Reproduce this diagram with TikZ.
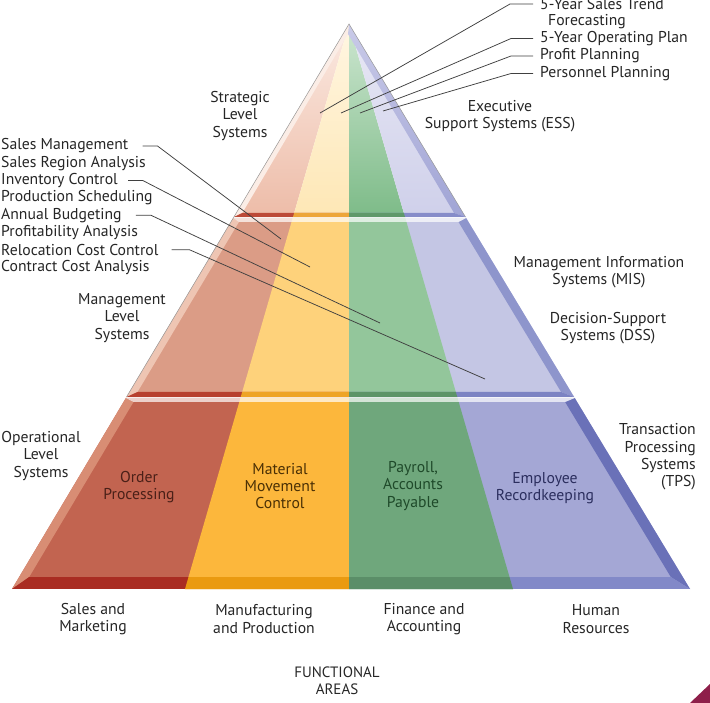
\documentclass[tikz,border=0pt]{standalone}
\usepackage{fontspec}
\setmainfont{PT Sans}
\usetikzlibrary{calc}
% operational tier
\definecolor{opR}{HTML}{C26450}\definecolor{opY}{HTML}{FCB73C}
\definecolor{opG}{HTML}{6FA77C}\definecolor{opP}{HTML}{A4A7D5}
\definecolor{opRd}{HTML}{A92C22}\definecolor{opYd}{HTML}{EA9A10}
\definecolor{opGd}{HTML}{5B8E68}\definecolor{opPd}{HTML}{8289C8}
\definecolor{opLB}{HTML}{D88D74}\definecolor{opRB}{HTML}{6A71B8}
% management tier
\definecolor{mgR}{HTML}{DB9C86}\definecolor{mgY}{HTML}{FED27B}
\definecolor{mgG}{HTML}{93C69B}\definecolor{mgP}{HTML}{C4C6E4}
\definecolor{mgRd}{HTML}{B7402F}\definecolor{mgYd}{HTML}{EEA426}
\definecolor{mgGd}{HTML}{5D9468}\definecolor{mgPd}{HTML}{7C83C3}
\definecolor{mgLB}{HTML}{EEC5B3}\definecolor{mgRB}{HTML}{8E95CC}
% strategic tier
\definecolor{stRt}{HTML}{FBEAE2}\definecolor{stRb}{HTML}{EDBCA8}
\definecolor{stYt}{HTML}{FFF6E2}\definecolor{stYb}{HTML}{FEE7B5}
\definecolor{stGt}{HTML}{CDE6D0}\definecolor{stGb}{HTML}{7DBB88}
\definecolor{stPt}{HTML}{E8E8F5}\definecolor{stPb}{HTML}{CFD0EA}
\definecolor{stRd}{HTML}{BC4A38}\definecolor{stYd}{HTML}{EDA63A}
\definecolor{stGd}{HTML}{5F996A}\definecolor{stPd}{HTML}{868CC9}
\definecolor{stLB}{HTML}{FBEDE6}\definecolor{stRBt}{HTML}{C9CAE8}\definecolor{stRBb}{HTML}{A0A4D5}
% text
\definecolor{txOrd}{HTML}{4A2018}\definecolor{txMat}{HTML}{4A3005}
\definecolor{txPay}{HTML}{1F4A2A}\definecolor{txEmp}{HTML}{2B2E5E}
\definecolor{maroon}{HTML}{8E1F4A}
\newcommand{\pyrcols}[4]{%
  \fill[#1] (-20,24) -- (349,24) -- (349,589) -- (-20,589) -- cycle;
  \fill[#4] (348.5,24) -- (730,24) -- (730,589) -- (348.5,589) -- cycle;
  \fill[#2] (349,24) -- (349,589) -- (185,589) -- cycle;
  \fill[#3] (349,24) -- (513,589) -- (349,589) -- cycle;}
\begin{document}
\begin{tikzpicture}[x=1pt,y=-1pt,
  lbl/.style={font=\fontsize{15.7}{17.3}\selectfont, text=black!85, align=center, inner sep=0pt},
  lst/.style={font=\fontsize{15.7}{17.3}\selectfont, text=black!85, anchor=west, inner sep=0pt},
  leader/.style={draw=black!75, line width=0.75pt}]
\useasboundingbox (0,0) rectangle (710,703);
\fill[white] (0,0) rectangle (710,703);

% ---------- operational tier
\begin{scope}
  \clip (125.9,398) -- (574.7,398) -- (690,589) -- (12,589) -- cycle;
  \pyrcols{opR}{opY}{opG}{opP}
\end{scope}
\fill[opLB] (125.9,398) -- (12,589) -- (29.2,577) -- (133.5,402) -- cycle;
\fill[opRB] (574.7,398) -- (690,589) -- (670.8,577) -- (565.1,402) -- cycle;
\begin{scope}
  \clip (12,589) -- (690,589) -- (670.8,577) -- (29.2,577) -- cycle;
  \pyrcols{opRd}{opYd}{opGd}{opPd}
\end{scope}
\fill[white, opacity=0.7] (125.9,398) -- (574.7,398) -- (565.1,402) -- (133.5,402) -- cycle;

% ---------- management tier
\begin{scope}
  \clip (233.3,218) -- (466.1,218) -- (574.1,397) -- (126.5,397) -- cycle;
  \pyrcols{mgR}{mgY}{mgG}{mgP}
\end{scope}
\fill[mgLB] (233.3,218) -- (126.5,397) -- (137.5,392) -- (238.9,222) -- cycle;
\fill[mgRB] (466.1,218) -- (574.1,397) -- (561.1,392) -- (458.5,222) -- cycle;
\begin{scope}
  \clip (126.5,397) -- (574.1,397) -- (561.1,392) -- (137.5,392) -- cycle;
  \pyrcols{mgRd}{mgYd}{mgGd}{mgPd}
\end{scope}
\fill[white, opacity=0.7] (233.3,218) -- (466.1,218) -- (458.5,222) -- (238.9,222) -- cycle;

% ---------- strategic tier
\shade[top color=stRt, bottom color=stRb] (349,24) -- (293,217) -- (233.9,217) -- cycle;
\shade[top color=stYt, bottom color=stYb] (349,24) -- (349,217) -- (293,217) -- cycle;
\shade[top color=stGt, bottom color=stGb] (349,24) -- (405,217) -- (349,217) -- cycle;
\shade[top color=stPt, bottom color=stPb] (349,24) -- (465.5,217) -- (405,217) -- cycle;
\fill[stLB] (349,24) -- (233.9,217) -- (242.3,213) -- (348,34) -- cycle;
\shade[top color=stRBt, bottom color=stRBb] (349,24) -- (465.5,217) -- (454.1,213) -- (348,34) -- cycle;
\begin{scope}
  \clip (233.9,217) -- (465.5,217) -- (454.1,213) -- (242.3,213) -- cycle;
  \pyrcols{stRd}{stYd}{stGd}{stPd}
\end{scope}
\draw[black!40, line width=0.5pt] (126.5,397) -- (349,24) -- (465.5,217);

% ---------- labels in and around pyramid
\node[lbl] (strat) at (240,116) {Strategic\\Level\\Systems};
\node[lbl] (ess) at (500,116) {Executive\\Support Systems (ESS)};
\node[lbl] (mgmt) at (122,318) {Management\\Level\\Systems};
\node[lbl] (mis) at (599,272) {Management Information\\Systems (MIS)};
\node[lbl] (dss) at (608,328) {Decision-Support\\Systems (DSS)};
\node[lbl] (oper) at (41,456) {Operational\\Level\\Systems};
\node[lbl, align=right, anchor=east] (tps) at (696,457) {Transaction\\Processing\\Systems\\(TPS)};
\node[lbl, text=txOrd] (order) at (139,487) {Order\\Processing};
\node[lbl, text=txMat] (mat) at (280,486) {Material\\Movement\\Control};
\node[lbl, text=txPay] (pay) at (413,486) {Payroll,\\Accounts\\Payable};
\node[lbl, text=txEmp] (emp) at (545,488) {Employee\\Recordkeeping};

% ---------- functional areas
\node[lbl] (sales) at (93,619) {Sales and\\Marketing};
\node[lbl] (manuf) at (264,619) {Manufacturing\\and Production};
\node[lbl] (fin) at (424,619) {Finance and\\Accounting};
\node[lbl] (hr) at (596,619) {Human\\Resources};
\node[lbl, font=\fontsize{15}{17.3}\selectfont] (func) at (337,681) {FUNCTIONAL\\AREAS};

% ---------- top-right list
\node[lst] (tr1) at (540,4) {5-Year Sales Trend};
\node[lst] (tr1b) at (548,21.5) {Forecasting};
\node[lst] (tr2) at (540,38.5) {5-Year Operating Plan};
\node[lst] (tr3) at (540,56) {Profit Planning};
\node[lst] (tr4) at (540,73.5) {Personnel Planning};
\coordinate (p1) at (320,113);
\coordinate (p2) at (341,113);
\coordinate (p3) at (360,113);
\coordinate (p4) at (383,111);
\draw[leader] ([xshift=-7pt]tr1.west) -- ([xshift=-30pt]tr1.west) -- (p1);
\draw[leader] ([xshift=-7pt]tr2.west) -- ([xshift=-29pt]tr2.west) -- (p2);
\draw[leader] ([xshift=-7pt]tr3.west) -- ([xshift=-29pt]tr3.west) -- (p3);
\draw[leader] ([xshift=-7pt]tr4.west) -- ([xshift=-29pt]tr4.west) -- (p4);

% ---------- left list
\node[lst] (l1) at (1,146) {Sales Management};
\node[lst] (l2) at (1,163.3) {Sales Region Analysis};
\node[lst] (l3) at (1,180.6) {Inventory Control};
\node[lst] (l4) at (1,197.9) {Production Scheduling};
\node[lst] (l5) at (1,215.2) {Annual Budgeting};
\node[lst] (l6) at (1,232.5) {Profitability Analysis};
\node[lst] (l7) at (1,249.8) {Relocation Cost Control};
\node[lst] (l8) at (1,267.1) {Contract Cost Analysis};
\coordinate (q1) at (281,239);
\coordinate (q2) at (310,267);
\coordinate (q3) at (380,323);
\coordinate (q4) at (485,379);
\draw[leader] ([xshift=14pt]l1.east) -- ++(15,0) -- (q1);
\draw[leader] ([xshift=10pt]l3.east) -- ++(15,0) -- (q2);
\draw[leader] ([xshift=14pt]l5.east) -- ++(15,0) -- (q3);
\draw[leader] ([xshift=13pt]l7.east) -- ++(18,0) -- (q4);

% ---------- corner mark
\fill[maroon] (690,703) -- (710,684) -- (710,703) -- cycle;
\end{tikzpicture}
\end{document}
